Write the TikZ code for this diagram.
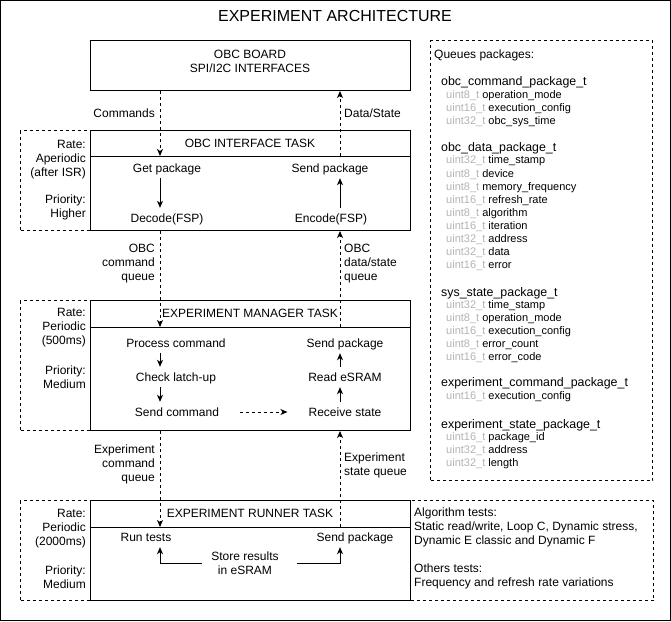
\documentclass[tikz,border=0pt]{standalone}
\usepackage{fontspec}
\setmainfont{Liberation Sans}
\usetikzlibrary{arrows.meta,calc}
\definecolor{typegray}{HTML}{B3B3B3}
\newcommand\qhd[3]{\node[qh] (#1) at (441,#2) {#3};}
\newcommand\qfd[4]{\node[qf] (#1) at (446,#2) {\textcolor{typegray}{#3} #4};}
\begin{document}
\begin{tikzpicture}[x=1pt,y=-1pt,
  lw/.style={line width=1pt},
  box/.style={draw, line width=1pt, anchor=north west, inner sep=0pt, fill=white},
  dashbox/.style={draw, line width=1pt, dash pattern=on 3pt off 3pt, anchor=north west, inner sep=0pt},
  t12/.style={font=\fontsize{12}{14}\selectfont, inner sep=0pt},
  cap12/.style={t12, text height=8.6pt, text depth=0pt},
  item/.style={cap12, inner ysep=5.7pt},
  qh/.style={font=\fontsize{12.4}{14}\selectfont, inner sep=0pt, text height=8.8pt, text depth=0pt, anchor=west},
  qf/.style={font=\fontsize{11}{13}\selectfont, inner sep=0pt, text height=7.9pt, text depth=0pt, anchor=west},
  arr/.style={line width=1pt, -{Stealth[length=7pt,width=6pt,inset=2pt]}},
  darr/.style={arr, dash pattern=on 3pt off 3pt},
]
\useasboundingbox (0,0) rectangle (671,621);
\draw[lw] (0.5,0.5) rectangle (670.5,620.5);

% title
\node[inner sep=0pt, font=\fontsize{16}{19}\selectfont, text height=11.5pt, text depth=0pt] (title) at (335,16) {EXPERIMENT ARCHITECTURE};

% side dashed boxes
\node[dashbox, minimum width=70pt, minimum height=100pt] (ifcside) at (20,130) {};
\node[dashbox, minimum width=70pt, minimum height=130pt] (mgrside) at (20,300) {};
\node[dashbox, minimum width=70pt, minimum height=100pt] (runside) at (20,500) {};
\node[dashbox, minimum width=243pt, minimum height=100pt] (runinfo) at (410,500) {};
\node[dashbox, minimum width=222pt, minimum height=440pt] (queues) at (430,40) {};

% main boxes
\node[box, minimum width=320pt, minimum height=50pt] (obc) at (90,40) {};
\node[box, minimum width=320pt, minimum height=100pt] (ifc) at (90,130) {};
\node[box, minimum width=320pt, minimum height=130pt] (mgr) at (90,300) {};
\node[box, minimum width=320pt, minimum height=100pt] (run) at (90,500) {};
\draw[lw] ($(ifc.north west)+(0,26)$) -- ($(ifc.north east)+(0,26)$);
\draw[lw] ($(mgr.north west)+(0,27)$) -- ($(mgr.north east)+(0,27)$);
\draw[lw] ($(run.north west)+(0,27)$) -- ($(run.north east)+(0,27)$);

\node[t12, align=center] (obclbl) at (250,61) {OBC BOARD\\SPI/I2C INTERFACES};
\node[cap12] (ifchd) at (250,143) {OBC INTERFACE TASK};
\node[cap12] (mgrhd) at (250,313) {EXPERIMENT MANAGER TASK};
\node[cap12] (runhd) at (250,513) {EXPERIMENT RUNNER TASK};

% coordinates for connector columns
\coordinate (cmdx) at (160,0);
\coordinate (datax) at (340,0);
\coordinate (ifcHL) at (160,156);
\coordinate (ifcHR) at (340,156);
\coordinate (mgrHL) at (160,327);
\coordinate (mgrHR) at (340,327);
\coordinate (runHL) at (160,527);
\coordinate (runHR) at (340,527);

% interface items
\node[item] (getpkg) at (167,168) {Get package};
\node[item] (decode) at (167,218) {Decode(FSP)};
\node[item] (sendpkgA) at (330,168) {Send package};
\node[item] (encode) at (331,218) {Encode(FSP)};
\draw[arr] (getpkg.south -| cmdx) -- (decode.north -| cmdx);
\draw[arr] (encode.north -| datax) -- (sendpkgA.south -| datax);

% manager items
\node[item] (proc) at (176,343) {Process command};
\node[item] (check) at (176,377) {Check latch-up};
\node[item] (sendcmd) at (177,412) {Send command};
\node[item] (sendpkgB) at (345,343) {Send package};
\node[item] (readesram) at (345,377) {Read eSRAM};
\node[item] (recv) at (345,412) {Receive state};
\draw[arr] (proc.south -| cmdx) -- (check.north -| cmdx);
\draw[arr] (check.south -| cmdx) -- (sendcmd.north -| cmdx);
\draw[arr] (recv.north -| datax) -- (readesram.south -| datax);
\draw[arr] (readesram.north -| datax) -- (sendpkgB.south -| datax);
\draw[darr, shorten <=21pt, shorten >=21pt] (sendcmd.east) -- (recv.west);

% runner items
\node[item] (runtests) at (146,537) {Run tests};
\node[item] (sendpkgC) at (355,537) {Send package};
\node[t12, align=center] (store) at (245,563.5) {Store results\\in eSRAM};
\draw[arr] ([xshift=-9pt]store.west) -| (runtests.south -| cmdx);
\draw[arr] ([xshift=18pt]store.east) -| (sendpkgC.south -| datax);

% queue connectors
\draw[darr] (obc.south -| cmdx) -- (ifcHL);
\draw[darr] (ifcHR) -- (obc.south -| datax);
\draw[darr] (ifc.south -| cmdx) -- (mgrHL);
\draw[darr] (mgrHR) -- (ifc.south -| datax);
\draw[darr] (mgr.south -| cmdx) -- (runHL);
\draw[darr] (runHR) -- (mgr.south -| datax);

% connector labels
\node[cap12, anchor=east] (cmdlbl) at (155,113) {Commands};
\node[cap12, anchor=west] (datalbl) at (344,113) {Data/State};
\node[t12, align=right, anchor=east] (obcq) at (155,264) {OBC\\command\\queue};
\node[t12, align=left, anchor=west] (obcdq) at (344,264) {OBC\\data/state\\queue};
\node[t12, align=right, anchor=east] (expcq) at (155,464) {Experiment\\command\\queue};
\node[t12, align=left, anchor=west] (expsq) at (344,465) {Experiment\\state queue};

% side labels
\node[t12, align=right, anchor=east] (ifcrate) at (86,159.5) {Rate:\\Aperiodic\\(after ISR)};
\node[t12, align=right, anchor=east] (ifcprio) at (86,207) {Priority:\\Higher};
\node[t12, align=right, anchor=east] (mgrrate) at (86,328) {Rate:\\Periodic\\(500ms)};
\node[t12, align=right, anchor=east] (mgrprio) at (86,377) {Priority:\\Medium};
\node[t12, align=right, anchor=east] (runrate) at (86,528.5) {Rate:\\Periodic\\(2000ms)};
\node[t12, align=right, anchor=east] (runprio) at (86,577) {Priority:\\Medium};

\node[t12, align=left, anchor=west] (algo) at (414,527) {Algorithm tests:\\Static read/write, Loop C, Dynamic stress,\\Dynamic E classic and Dynamic F};
\node[t12, align=left, anchor=west] (others) at (414,576) {Others tests:\\Frequency and refresh rate variations};

% queue packages
\node[cap12, anchor=west] (qtitle) at (434,54) {Queues packages:};
\qhd{qa}{81}{obc\_command\_package\_t}
\qfd{qa1}{95}{uint8\_t}{operation\_mode}
\qfd{qa2}{108}{uint16\_t}{execution\_config}
\qfd{qa3}{121}{uint32\_t}{obc\_sys\_time}
\qhd{qb}{147}{obc\_data\_package\_t}
\qfd{qb1}{160}{uint32\_t}{time\_stamp}
\qfd{qb2}{174}{uint8\_t}{device}
\qfd{qb3}{187}{uint8\_t}{memory\_frequency}
\qfd{qb4}{200}{uint16\_t}{refresh\_rate}
\qfd{qb5}{213}{uint8\_t}{algorithm}
\qfd{qb6}{226}{uint16\_t}{iteration}
\qfd{qb7}{239}{uint32\_t}{address}
\qfd{qb8}{252}{uint32\_t}{data}
\qfd{qb9}{265}{uint16\_t}{error}
\qhd{qc}{292}{sys\_state\_package\_t}
\qfd{qc1}{305}{uint32\_t}{time\_stamp}
\qfd{qc2}{318}{uint8\_t}{operation\_mode}
\qfd{qc3}{331}{uint16\_t}{execution\_config}
\qfd{qc4}{344}{uint8\_t}{error\_count}
\qfd{qc5}{357}{uint16\_t}{error\_code}
\qhd{qd}{382}{experiment\_command\_package\_t}
\qfd{qd1}{396}{uint16\_t}{execution\_config}
\qhd{qe}{424}{experiment\_state\_package\_t}
\qfd{qe1}{437}{uint16\_t}{package\_id}
\qfd{qe2}{450}{uint32\_t}{address}
\qfd{qe3}{463}{uint32\_t}{length}
\end{tikzpicture}
\end{document}
